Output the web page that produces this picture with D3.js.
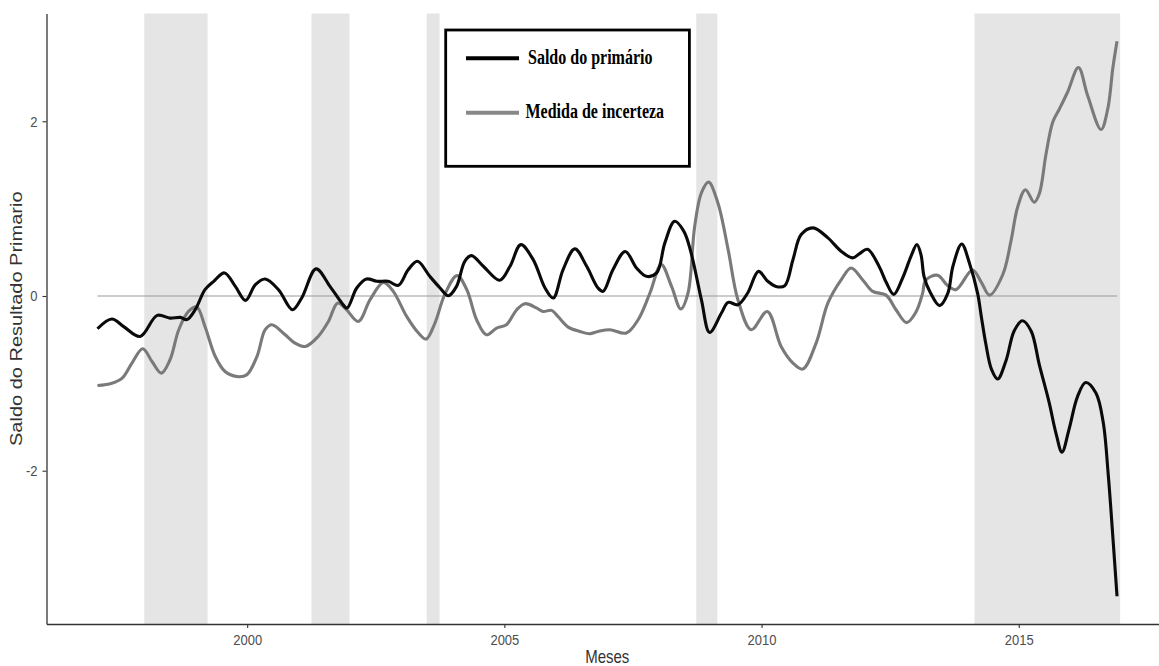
<!DOCTYPE html>
<html>
<head>
<meta charset="utf-8">
<script src="https://cdn.jsdelivr.net/npm/d3@7/dist/d3.min.js"></script>
<style>
body { margin: 0; background: #fff; }
svg { display: block; }
</style>
</head>
<body>
<div id="chart"></div>
<script>
// values: [ano decimal, valor]
var saldo = [
  [1997.09,-0.375],[1997.37,-0.264],[1997.60,-0.35],[1997.92,-0.463],[1998.25,-0.222],
  [1998.50,-0.253],[1998.70,-0.245],[1998.83,-0.27],[1998.99,-0.157],[1999.18,0.072],
  [1999.35,0.168],[1999.56,0.264],[1999.77,0.11],[1999.97,-0.05],[2000.16,0.13],
  [2000.35,0.195],[2000.61,0.072],[2000.88,-0.157],[2001.06,-0.023],[2001.34,0.31],
  [2001.61,0.11],[2001.84,-0.08],[2001.94,-0.138],[2002.13,0.092],[2002.32,0.195],
  [2002.52,0.168],[2002.74,0.168],[2002.94,0.122],[2003.13,0.30],[2003.31,0.397],
  [2003.55,0.225],[2003.75,0.092],[2003.91,0.003],[2004.07,0.11],[2004.23,0.397],
  [2004.36,0.462],[2004.59,0.34],[2004.91,0.18],[2005.11,0.34],[2005.32,0.588],
  [2005.56,0.416],[2005.79,0.092],[2005.95,-0.023],[2006.14,0.30],[2006.37,0.539],
  [2006.60,0.34],[2006.82,0.092],[2006.92,0.053],[2007.11,0.30],[2007.35,0.51],
  [2007.57,0.32],[2007.76,0.225],[2007.96,0.264],[2008.12,0.608],[2008.31,0.855],
  [2008.49,0.74],[2008.63,0.493],[2008.83,-0.042],[2008.99,-0.417],[2009.22,-0.195],
  [2009.35,-0.073],[2009.54,-0.10],[2009.73,0.034],[2009.94,0.282],[2010.12,0.168],
  [2010.28,0.11],[2010.45,0.118],[2010.61,0.416],[2010.77,0.703],[2011.00,0.78],
  [2011.29,0.665],[2011.55,0.51],[2011.77,0.436],[2011.90,0.483],[2012.06,0.534],
  [2012.29,0.333],[2012.42,0.16],[2012.57,0.018],[2012.74,0.203],[2012.91,0.462],
  [2013.02,0.59],[2013.10,0.47],[2013.16,0.22],[2013.28,0.04],[2013.46,-0.11],
  [2013.62,0.03],[2013.72,0.34],[2013.89,0.596],[2014.04,0.378],[2014.20,0.03],
  [2014.27,-0.228],[2014.36,-0.55],[2014.47,-0.84],[2014.59,-0.95],[2014.75,-0.744],
  [2014.91,-0.40],[2015.07,-0.283],[2015.24,-0.40],[2015.40,-0.788],[2015.59,-1.218],
  [2015.72,-1.563],[2015.84,-1.787],[2015.98,-1.52],[2016.14,-1.154],[2016.30,-0.99],
  [2016.50,-1.11],[2016.64,-1.44],[2016.74,-2.05],[2016.84,-2.85],[2016.91,-3.437]
];

var incerteza = [
  [1997.09,-1.025],[1997.37,-0.998],[1997.57,-0.94],[1997.76,-0.768],[1997.97,-0.604],
  [1998.15,-0.75],[1998.33,-0.883],[1998.50,-0.73],[1998.67,-0.386],[1998.86,-0.177],
  [1999.02,-0.126],[1999.18,-0.349],[1999.38,-0.693],[1999.57,-0.865],[1999.80,-0.922],
  [1999.99,-0.903],[2000.19,-0.693],[2000.35,-0.386],[2000.48,-0.329],[2000.74,-0.444],
  [2000.93,-0.539],[2001.13,-0.578],[2001.38,-0.463],[2001.58,-0.291],[2001.76,-0.08],
  [2001.92,-0.15],[2002.16,-0.291],[2002.39,-0.042],[2002.65,0.156],[2002.84,0.053],
  [2003.10,-0.234],[2003.33,-0.424],[2003.48,-0.493],[2003.65,-0.31],[2003.84,0.015],
  [2004.08,0.233],[2004.27,0.072],[2004.46,-0.272],[2004.65,-0.444],[2004.85,-0.367],
  [2005.04,-0.329],[2005.24,-0.157],[2005.40,-0.088],[2005.63,-0.138],[2005.75,-0.177],
  [2005.92,-0.165],[2006.04,-0.234],[2006.24,-0.356],[2006.47,-0.406],[2006.66,-0.432],
  [2006.82,-0.406],[2007.05,-0.386],[2007.37,-0.424],[2007.60,-0.272],[2007.83,0.034],
  [2008.05,0.359],[2008.25,0.11],[2008.43,-0.149],[2008.57,0.034],[2008.70,0.798],
  [2008.83,1.181],[2008.97,1.303],[2009.15,1.067],[2009.35,0.531],[2009.54,-0.042],
  [2009.80,-0.386],[2010.11,-0.177],[2010.38,-0.578],[2010.61,-0.768],[2010.80,-0.837],
  [2011.06,-0.539],[2011.29,-0.08],[2011.55,0.187],[2011.74,0.32],[2011.97,0.181],
  [2012.16,0.053],[2012.42,0.01],[2012.62,-0.163],[2012.82,-0.305],[2013.00,-0.185],
  [2013.13,0.03],[2013.19,0.181],[2013.42,0.237],[2013.62,0.117],[2013.78,0.073],
  [2014.10,0.298],[2014.27,0.16],[2014.43,0.01],[2014.69,0.246],[2014.85,0.634],
  [2014.98,1.022],[2015.13,1.216],[2015.30,1.073],[2015.40,1.172],[2015.53,1.625],
  [2015.66,1.99],[2015.79,2.141],[2015.95,2.335],[2016.16,2.615],[2016.34,2.292],
  [2016.60,1.905],[2016.73,2.141],[2016.83,2.615],[2016.91,2.916]
];

// shaded periods (recessions)
var recessoes = [[1998.00,1999.23],[2001.25,2001.99],[2003.49,2003.74],[2008.73,2009.14],[2014.14,2016.97]];

var anosTicks = [2000, 2005, 2010, 2015];
var valorTicks = [-2, 0, 2];
var legenda = ["Saldo do primário", "Medida de incerteza"];
var cores = ["#0a0a0a", "#7a7a7a"];

var width = 1159, height = 666;
var panel = {left: 46.5, top: 13.5, right: 1168, bottom: 624};
var sans = "'Liberation Sans', Arial, sans-serif";
var serif = "'Liberation Serif', 'Times New Roman', serif";
var sy = 1.15;   // tick labels look a bit taller than wide in the original

var svg = d3.select("#chart").append("svg")
    .attr("width", width)
    .attr("height", height);

// ggplot-like 5% expansion
function expand(ext) {
    var s = (ext[1] - ext[0]) * 0.05;
    return [ext[0] - s, ext[1] + s];
}
var all = saldo.concat(incerteza);
var tExt = d3.extent(all, function(d) { return d[0]; });
var x = d3.scaleLinear()
    .domain(expand(tExt))
    .range([panel.left, panel.right]);
var y = d3.scaleLinear()
    .domain(expand(d3.extent(all, function(d) { return d[1]; })))
    .range([panel.bottom, panel.top]);

// recession bands
svg.selectAll("rect.band")
    .data(recessoes)
  .enter().append("rect")
    .attr("class", "band")
    .attr("x", function(d) { return x(d[0]); })
    .attr("width", function(d) { return x(d[1]) - x(d[0]); })
    .attr("y", panel.top)
    .attr("height", panel.bottom - panel.top)
    .attr("fill", "#e5e5e5");

// zero line over the data range
svg.append("line")
    .attr("x1", x(tExt[0])).attr("x2", x(tExt[1]))
    .attr("y1", y(0)).attr("y2", y(0))
    .attr("stroke", "#999").attr("stroke-width", 1.2);

var line = d3.line()
    .x(function(d) { return x(d[0]); })
    .y(function(d) { return y(d[1]); })
    .curve(d3.curveCatmullRom.alpha(0.5));

svg.append("path").datum(incerteza)
    .attr("d", line)
    .attr("fill", "none")
    .attr("stroke", cores[1])
    .attr("stroke-width", 3.1)
    .attr("stroke-linejoin", "round");

svg.append("path").datum(saldo)
    .attr("d", line)
    .attr("fill", "none")
    .attr("stroke", cores[0])
    .attr("stroke-width", 3.1)
    .attr("stroke-linejoin", "round");

// axes
var xAxis = svg.append("g")
    .attr("transform", "translate(0," + panel.bottom + ")")
    .call(d3.axisBottom(x).tickValues(anosTicks).tickFormat(d3.format("d"))
          .tickSize(4).tickPadding(7).tickSizeOuter(0));
var yAxis = svg.append("g")
    .attr("transform", "translate(" + panel.left + ",0)")
    .call(d3.axisLeft(y).tickValues(valorTicks).tickFormat(d3.format("d"))
          .tickSize(4).tickPadding(5).tickSizeOuter(0));

[xAxis, yAxis].forEach(function(a) {
    a.select(".domain").attr("stroke", "#333").attr("stroke-width", 1.3);
    a.selectAll(".tick line").attr("stroke", "#333").attr("stroke-width", 1.1);
    a.selectAll(".tick text")
        .attr("fill", "#4d4d4d")
        .style("font-family", sans)
        .style("font-size", "13px");
});
yAxis.selectAll(".tick text").text(function(d) { return d < 0 ? "-" + Math.abs(d) : d; });

// stretch tick labels vertically, keeping their place
xAxis.selectAll(".tick text")
    .attr("y", 10.5 / sy)
    .attr("transform", "scale(1," + sy + ")");
yAxis.selectAll(".tick text")
    .attr("transform", "scale(1," + sy + ")");

// axis titles (the original is a bit stretched vertically)
svg.append("text")
    .attr("transform", "translate(" + ((panel.left + panel.right) / 2) + ",663) scale(1,1.2)")
    .attr("text-anchor", "middle")
    .attr("fill", "#333")
    .style("font-family", sans)
    .style("font-size", "15px")
    .text("Meses");

svg.append("text")
    .attr("transform", "translate(22," + ((panel.top + panel.bottom) / 2) + ") scale(1,1.25) rotate(-90)")
    .attr("text-anchor", "middle")
    .attr("fill", "#333")
    .style("font-family", sans)
    .style("font-size", "16px")
    .text("Saldo do Resultado Primario");

// legend box
var leg = svg.append("g");
leg.append("rect")
    .attr("x", 445.7).attr("y", 30)
    .attr("width", 243.7).attr("height", 136.3)
    .attr("fill", "#fff")
    .attr("stroke", "#000")
    .attr("stroke-width", 2.8);

var legY = [58.3, 112.7];
legenda.forEach(function(txt, i) {
    leg.append("line")
        .attr("x1", 466).attr("x2", 519)
        .attr("y1", legY[i]).attr("y2", legY[i])
        .attr("stroke", i == 0 ? "#000" : "#888")
        .attr("stroke-width", 4);
    leg.append("text")
        .attr("transform", "translate(" + (i == 0 ? 528 : 525.5) + "," + (legY[i] + 5.5) + ") scale(1,1.25)")
        .attr("fill", "#000")
        .style("font-family", serif)
        .style("font-weight", "bold")
        .style("font-size", "16px")
        .text(txt);
});
</script>
</body>
</html>
